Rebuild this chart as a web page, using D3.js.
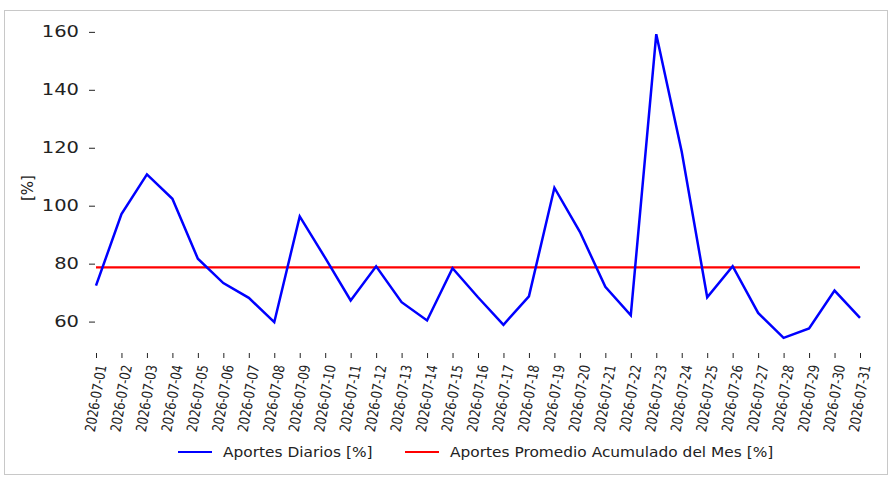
<!DOCTYPE html>
<html>
<head>
<meta charset="utf-8">
<script src="https://cdn.jsdelivr.net/npm/d3@7"></script>
<style>
  body { margin: 0; background: #fff; }
  text { font-family: "DejaVu Sans", sans-serif; fill: #222; }
</style>
</head>
<body>
<div id="chart"></div>
<script>
// datos del mes
var dates = ["2026-07-01","2026-07-02","2026-07-03","2026-07-04","2026-07-05","2026-07-06","2026-07-07","2026-07-08",
  "2026-07-09","2026-07-10","2026-07-11","2026-07-12","2026-07-13","2026-07-14","2026-07-15","2026-07-16",
  "2026-07-17","2026-07-18","2026-07-19","2026-07-20","2026-07-21","2026-07-22","2026-07-23","2026-07-24",
  "2026-07-25","2026-07-26","2026-07-27","2026-07-28","2026-07-29","2026-07-30","2026-07-31"];
var aportesDiarios = [72.4, 97.1, 110.8, 102.4, 81.7, 73.3, 68.2, 59.8,
  96.3, 82.0, 67.3, 79.1, 66.7, 60.4, 78.4, 68.4,
  58.9, 68.7, 106.2, 91.0, 72.0, 62.2, 159.2, 118.6,
  68.4, 79.1, 63.0, 54.4, 57.6, 70.7, 61.3];
var promedioMes = 78.7;
var yTicks = [60, 80, 100, 120, 140, 160];
var legendLabels = ["Aportes Diarios [%]", "Aportes Promedio Acumulado del Mes [%]"];
var legendColors = ["#0000ff", "#ff0000"];

var W = 891, H = 479;
var svg = d3.select('#chart').append('svg')
  .attr('width', W)
  .attr('height', H);

// marco gris
svg.append('rect')
  .attr('x', 4.5).attr('y', 10.5)
  .attr('width', 883).attr('height', 464)
  .attr('fill', 'none')
  .attr('stroke', '#c8c8c8');

var x = d3.scalePoint().domain(dates).range([96, 860]);
var yMin = d3.min(aportesDiarios), yMax = d3.max(aportesDiarios);
var pad = (yMax - yMin) * 0.05;
var y = d3.scaleLinear().domain([yMin - pad, yMax + pad]).range([353, 19]);

// eje y (solo marcas, sin línea)
var yAxis = svg.append('g')
  .attr('transform', 'translate(95,0)')
  .call(d3.axisLeft(y).tickValues(yTicks).tickSize(6).tickPadding(10));
yAxis.select('.domain').remove();
yAxis.selectAll('line').attr('stroke', '#222');
yAxis.selectAll('text')
  .attr('font-size', 15)
  .attr('font-family', 'DejaVu Sans')
  .attr('fill', '#222')
  .attr('transform', function(d) { return 'translate(-16,' + y(d) + ') scale(1.3,1) translate(16,' + (-y(d)) + ')'; });

// eje x
var xAxis = svg.append('g')
  .attr('transform', 'translate(0,353)')
  .call(d3.axisBottom(x).tickSize(5).tickPadding(0));
xAxis.select('.domain').remove();
xAxis.selectAll('line').attr('stroke', '#222');
xAxis.selectAll('text')
  .attr('font-size', 12)
  .attr('font-family', 'DejaVu Sans Condensed')
  .attr('fill', '#111')
  .attr('text-anchor', 'end')
  .attr('x', 0).attr('y', 0).attr('dy', '0.35em')
  .attr('transform', 'translate(5,12) rotate(-80) scale(0.97,1.2)');

// etiqueta del eje y
svg.append('text')
  .attr('transform', 'translate(33,188) rotate(-90)')
  .attr('text-anchor', 'middle')
  .attr('font-size', 15)
  .text('[%]');

// promedio acumulado
svg.append('line')
  .attr('x1', x(dates[0])).attr('x2', x(dates[dates.length - 1]))
  .attr('y1', y(promedioMes)).attr('y2', y(promedioMes))
  .attr('stroke', legendColors[1])
  .attr('stroke-width', 2.2);

// aportes diarios
var line = d3.line()
  .x(function(d, i) { return x(dates[i]); })
  .y(function(d) { return y(d); });
svg.append('path')
  .datum(aportesDiarios)
  .attr('d', line)
  .attr('fill', 'none')
  .attr('stroke', legendColors[0])
  .attr('stroke-width', 2.5)
  .attr('stroke-linejoin', 'miter');

// leyenda
var legendX = [178, 405];
legendLabels.forEach(function(lbl, i) {
  var g = svg.append('g').attr('transform', 'translate(' + legendX[i] + ',452)');
  g.append('line')
    .attr('x1', 0).attr('x2', 34)
    .attr('stroke', legendColors[i])
    .attr('stroke-width', 2.2);
  g.append('text')
    .attr('transform', 'translate(45,5) scale(1.1,1)')
    .attr('font-size', 14)
    .text(lbl);
});
</script>
</body>
</html>
